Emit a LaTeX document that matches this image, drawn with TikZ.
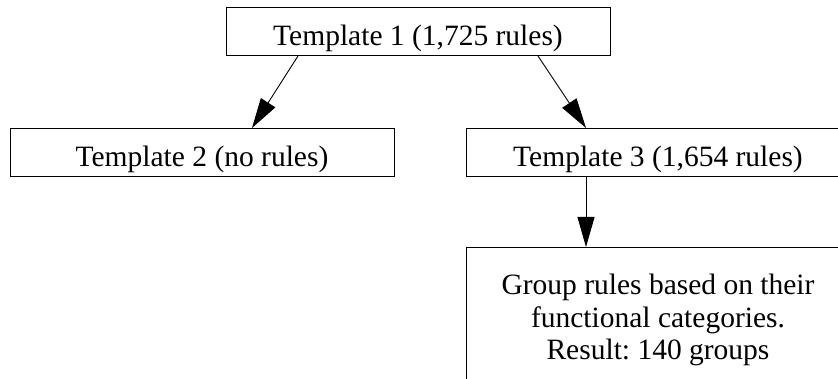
\documentclass[tikz,border=0pt]{standalone}
\usepackage{fontspec}
\setmainfont{Liberation Serif}
\usetikzlibrary{arrows.meta,calc}
\frenchspacing
\begin{document}
\begin{tikzpicture}[x=1pt,y=-1pt,
  box/.style={draw, line width=1pt, inner sep=0pt, minimum width=384pt,
    font=\fontsize{29.5}{32.5}\selectfont},
  single/.style={box, text height=38pt, text depth=10pt},
  link/.style={line width=0.9pt, -{Triangle[length=30pt,width=17pt]}}]
\clip (0,0) rectangle (838,379);
% template boxes
\node[single, anchor=north] (t1) at (418,7) {Template 1 (1,725 rules)};
\node[single, anchor=north] (t2) at (202,128) {Template 2 (no rules)};
\node[single, anchor=north] (t3) at (658,128) {Template 3 (1,654 rules)};
% grouping step, running past the lower edge
\node[box, anchor=north, align=center, text height=112pt, text depth=40pt] (t4) at (658,247)
  {Group rules based on their\\ functional categories.\\Result: 140 groups};
% connectors
\draw[link] ($(t1.south)+(-120,0)$) -- ($(t2.north)+(50,0)$);
\draw[link] ($(t1.south)+(120,0)$) -- ($(t3.north)+(-72,0)$);
\draw[link] ($(t3.south)+(-72,0)$) -- ($(t4.north)+(-72,0)$);
\end{tikzpicture}
\end{document}
